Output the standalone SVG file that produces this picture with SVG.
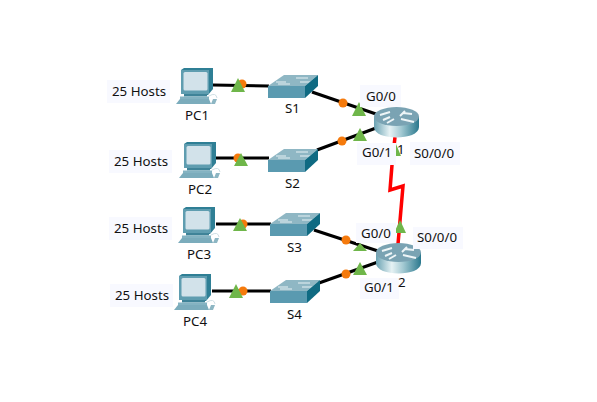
<svg xmlns="http://www.w3.org/2000/svg" width="597" height="402" viewBox="0 0 597 402">
<style>
text{font-family:"Noto Sans","Liberation Sans",sans-serif;fill:#111;font-size:13.300px}
.bg{fill:#f8f9ff}
.eth{stroke:#000;stroke-width:3.200;fill:none}
.ser{stroke:#f00;stroke-width:3.500;fill:none}
.up{fill:#6fb64a}
.dot{fill:#f57a0c}
</style>
<defs>
<linearGradient id="rg" x1="0" x2="1" y1="0" y2="0">
<stop offset="0" stop-color="#6aa2b2"/><stop offset=".35" stop-color="#e6f2f4"/><stop offset=".6" stop-color="#a4cad3"/><stop offset="1" stop-color="#2a788d"/>
</linearGradient>
<g id="pc">
<path d="M5 2 L8 0 L37 0 L37 21 L32 27 L5 25 Z" fill="#2f7f95"/>
<path d="M5 2 L33 2 L33 26 L5 26 Z" fill="#5f9db0"/>
<rect x="7.500" y="4" width="24" height="18.500" rx="1.500" fill="#d2e2ea"/>
<rect x="8" y="26" width="23" height="2.500" fill="#3f8398"/>
<path d="M4 28.500 L33 28.500 L33 31 L4 31 Z" fill="#84b3c2"/>
<path d="M0 36 L4 31 L33 31 L35 36 Z" fill="#7bacbc"/>
<path d="M35 36 L37 31 L41 31 L39 36 Z" fill="#8db6c3"/>
<path d="M33 28 Q40 24 41 30" stroke="#cfdfe5" fill="none"/>
</g>
<g id="sw">
<path d="M0 11 L16 0 L50 0 L37 11 Z" fill="#8fb7c4"/>
<path d="M10 9 H22 M28 3 H40 M8 7 H18 M32 7 H42" stroke="#e8f1f4" stroke-width="1.200"/>
<rect x="0" y="11" width="37" height="12" fill="#5a9ab0"/>
<path d="M37 11 L50 0 L50 11 L37 23 Z" fill="#0f6a82"/>
</g>
<g id="rt">
<path d="M0 10 V20 C0 34 45 34 45 20 V10 Z" fill="url(#rg)"/>
<ellipse cx="22.500" cy="9.500" rx="22.500" ry="9.500" fill="#7aa3b3"/>
<path d="M6 8 L16 5 M13 16 L20 12 M26 9 L31 4 M27 12 L40 15 M9 13 L16 10 M29 6 L38 7" stroke="#eef5f7" stroke-width="2"/>
</g>
</defs>

<g id="connectors">
<path class="eth" d="M213 85 L269 86"/>
<path class="eth" d="M216 158 L269 158"/>
<path class="eth" d="M216 224 L271 224"/>
<path class="eth" d="M212 291 L271 291"/>
<path class="eth" d="M312 92 L376 114"/>
<path class="eth" d="M317 150 L376 128"/>
<path class="eth" d="M314 230 L378 251"/>
<path class="eth" d="M319 283 L378 262"/>
<path class="ser" d="M395 137 L392 165 L390 190 L403 186 L398 244"/>
</g>

<g id="indicators">
<circle class="dot" cx="242" cy="84" r="4.500"/>
<path class="up" d="M231 92 L238 78 L245 92Z"/>
<circle class="dot" cx="238" cy="158" r="4.500"/>
<path class="up" d="M234 166 L241 153 L248 166Z"/>
<circle class="dot" cx="243" cy="224" r="4.500"/>
<path class="up" d="M233 231 L240 218 L247 231Z"/>
<circle class="dot" cx="243" cy="291" r="4.500"/>
<path class="up" d="M229 298 L236 284 L243 298Z"/>
<circle class="dot" cx="343" cy="103" r="4.500"/>
<path class="up" d="M352 116 L359 102 L366 116Z"/>
<circle class="dot" cx="342" cy="141" r="4.500"/>
<path class="up" d="M353 141 L360 128 L367 141Z"/>
<circle class="dot" cx="346" cy="240" r="4.500"/>
<path class="up" d="M353 251 L360 243 L367 251Z"/>
<circle class="dot" cx="346" cy="274" r="4.500"/>
<path class="up" d="M353 275 L360 262 L367 275Z"/>
<path class="up" d="M394 233 L400 220 L406 233Z"/>
</g>

<g id="PC1"><use href="#pc" x="176" y="68"/><text x="185" y="119.500">PC1</text></g>
<g id="PC2"><use href="#pc" x="179" y="142"/><text x="188" y="193.500">PC2</text></g>
<g id="PC3"><use href="#pc" x="178" y="207"/><text x="187" y="258.500">PC3</text></g>
<g id="PC4"><use href="#pc" x="174" y="274"/><text x="183" y="325.500">PC4</text></g>
<g id="S1"><use href="#sw" x="268" y="75"/><text x="285" y="113">S1</text></g>
<g id="S2"><use href="#sw" x="268" y="149"/><text x="285" y="188">S2</text></g>
<g id="S3"><use href="#sw" x="270" y="213"/><text x="287" y="252">S3</text></g>
<g id="S4"><use href="#sw" x="270" y="280"/><text x="287" y="319">S4</text></g>
<g id="R1"><use href="#rt" x="374" y="107"/></g>
<g id="R2"><use href="#rt" x="376" y="243"/></g>

<g id="labels">
<rect class="bg" x="107" y="80" width="63" height="23"/><text x="112" y="96">25 Hosts</text>
<rect class="bg" x="109" y="150" width="63" height="23"/><text x="114" y="166">25 Hosts</text>
<rect class="bg" x="109" y="217" width="63" height="23"/><text x="114" y="233">25 Hosts</text>
<rect class="bg" x="110" y="284" width="63" height="23"/><text x="115" y="300">25 Hosts</text>
<rect class="bg" x="360" y="85" width="41" height="22"/><text x="366" y="100.500">G0/0</text>
<path class="up" d="M393 156 L396 144 L401 156Z"/>
<rect class="bg" x="357" y="143" width="39" height="22"/><text x="362" y="157">G0/1</text>
<text x="397" y="154">1</text>
<rect class="bg" x="410" y="142" width="50" height="23"/><text x="414" y="158">S0/0/0</text>
<rect class="bg" x="356" y="223" width="40" height="20"/><text x="361" y="238">G0/0</text>
<rect class="bg" x="413" y="227" width="50" height="22"/><text x="417" y="242">S0/0/0</text>
<rect class="bg" x="360" y="278" width="39" height="21"/><text x="364" y="292">G0/1</text>
<text x="398" y="287">2</text>
</g>
</svg>
